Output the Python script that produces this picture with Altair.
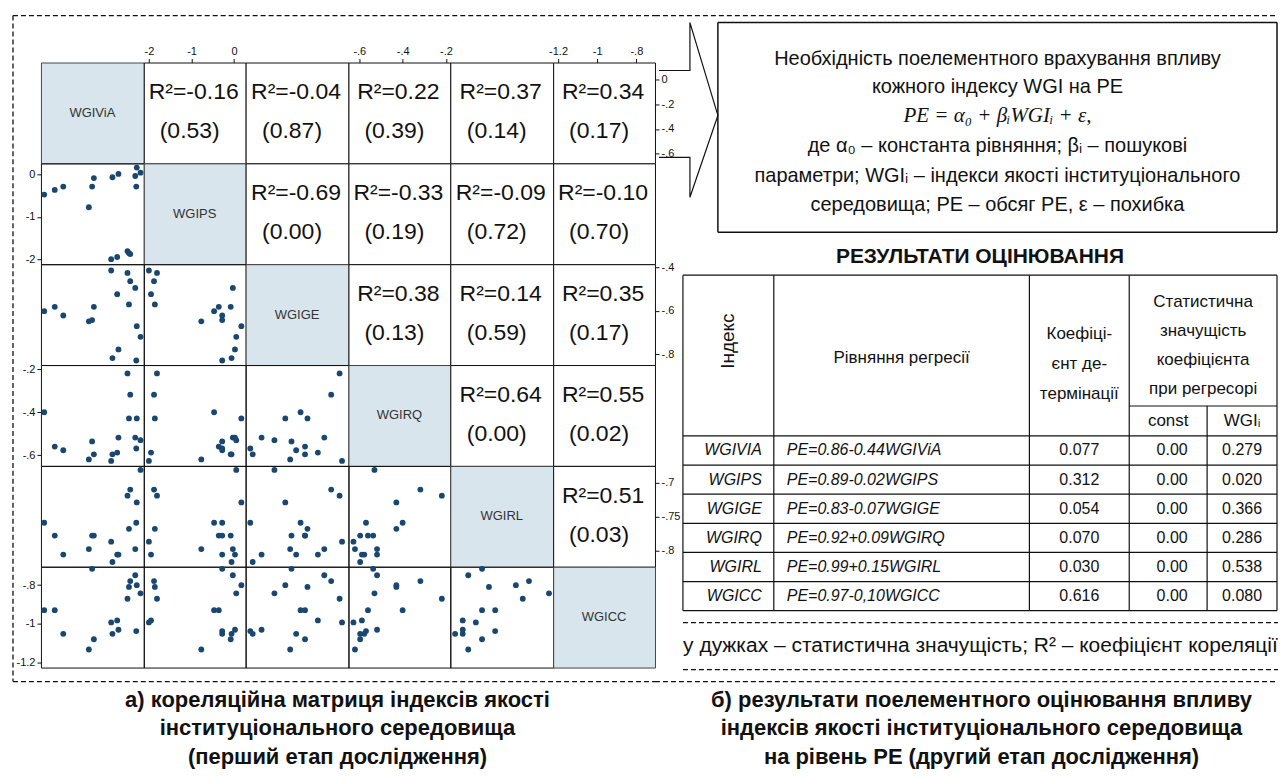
import altair as alt
import pandas as pd

FONT = "Liberation Sans, Arial, sans-serif"
SERIF = "Liberation Serif, DejaVu Serif, serif"
NAVY = "#1a476f"
DIAG = "#d9e5ec"
INK = "#111111"

# ---------------- data: scatter matrix (17 observations) ----------------
names = ["WGIViA", "WGIPS", "WGIGE", "WGIRQ", "WGIRL", "WGICC"]
wgivia = [-0.654, -0.570, -0.502, -0.298, -0.272, -0.258, -0.120, -0.110, -0.072,
          -0.062, 0.010, 0.022, 0.032, 0.072, 0.084, 0.080, 0.114]
wgips = [-0.47, -0.36, -0.28, -0.77, -0.28, -0.08, -2.00, -0.06, -1.95,
         0.02, -1.81, -1.86, -1.88, -0.03, 0.17, -0.28, 0.05]
wgige = [-0.601, -0.581, -0.621, -0.648, -0.642, -0.581, -0.414, -0.817, -0.523,
         -0.777, -0.425, -0.570, -0.463, -0.494, -0.670, -0.828, -0.719]
wgirq = [-0.400, -0.560, -0.577, -0.620, -0.536, -0.596, -0.627, -0.596, -0.588,
         -0.518, -0.219, -0.429, -0.318, -0.518, -0.429, -0.569, -0.530]
wgirl = [-0.759, -0.778, -0.806, -0.798, -0.778, -0.778, -0.787, -0.817, -0.806,
         -0.806, -0.719, -0.768, -0.710, -0.798, -0.729, -0.759, -0.681]
wgicc = [-0.929, -0.929, -1.051, -1.132, -0.716, -1.079, -0.992, -1.051, -0.982,
         -1.030, -0.870, -0.809, -0.779, -0.749, -0.800, -1.037, -0.842]

# upper-triangle texts (row-major)
corr_r = ["-0.16", "-0.04", "0.22", "0.37", "0.34", "-0.69", "-0.33", "-0.09", "-0.10",
          "0.38", "0.14", "0.35", "0.64", "0.55", "0.51"]
corr_p = ["0.53", "0.87", "0.39", "0.14", "0.17", "0.00", "0.19", "0.72", "0.70",
          "0.13", "0.59", "0.17", "0.00", "0.02", "0.03"]

# axis ticks
ticks = [[0, -0.2, -0.4, -0.6], [0, -1, -2], [-0.4, -0.6, -0.8],
         [-0.2, -0.4, -0.6], [-0.7, -0.75, -0.8], [-0.8, -1, -1.2]]
domains = [[-0.68, 0.14], [-2.12, 0.27], [-0.849, -0.385],
           [-0.65, -0.18], [-0.824, -0.675], [-1.225, -0.705]]

# ---------------- data: right panel ----------------
box_lines = ["Необхідність поелементного врахування впливу",
             "кожного індексу WGI на РЕ",
             "PE = α₀ + βᵢWGIᵢ + ε,",
             "де α₀ – константа рівняння; βᵢ – пошукові",
             "параметри; WGIᵢ – індекси якості інституціонального",
             "середовища; РЕ – обсяг РЕ, ε – похибка"]
table_title = "РЕЗУЛЬТАТИ ОЦІНЮВАННЯ"
hdr_index = "Індекс"
hdr_eq = "Рівняння регресії"
hdr_r2 = ["Коефіці-", "єнт де-", "термінації"]
hdr_sig = ["Статистична", "значущість", "коефіцієнта", "при регресорі"]
hdr_sub = ["const", "WGIᵢ"]
tbl_idx = ["WGIVIA", "WGIPS", "WGIGE", "WGIRQ", "WGIRL", "WGICC"]
tbl_eq = ["PE=0.86-0.44WGIViA", "PE=0.89-0.02WGIPS", "PE=0.83-0.07WGIGE",
          "PE=0.92+0.09WGIRQ", "PE=0.99+0.15WGIRL", "PE=0.97-0,10WGICC"]
tbl_r2 = ["0.077", "0.312", "0.054", "0.070", "0.030", "0.616"]
tbl_const = ["0.00", "0.00", "0.00", "0.00", "0.00", "0.00"]
tbl_wgi = ["0.279", "0.020", "0.366", "0.286", "0.538", "0.080"]
note = "у дужках – статистична значущість; R² – коефіцієнт кореляції"
cap_left = "а) кореляційна матриця індексів якості\nінституціонального середовища\n(перший етап дослідження)"
cap_right = "б) результати поелементного оцінювання впливу\nіндексів якості інституціонального середовища\nна рівень РЕ (другий етап дослідження)"

# ---------------- scatter matrix cells ----------------
df = pd.DataFrame(dict(zip(names, [wgivia, wgips, wgige, wgirq, wgirl, wgicc])))
COL_W = [103, 102, 103, 102, 103, 102]
ROW_H = 101
LEFT_W, TOP_H, BOT_H, CAP_H = 29, 48, 14, 88
RW = 624
LW = LEFT_W + sum(COL_W)          # 644
RH = TOP_H + 6 * ROW_H + BOT_H    # 668
LAB = "replace(toString(datum.value), '0.', '.')"
NOSTROKE = alt.ViewBackground(stroke="transparent")
one = pd.DataFrame({"a": [0]})


def mk_axis(k, orient):
    return alt.Axis(orient=orient, values=ticks[k], labelExpr=LAB, title=None,
                    domain=False, grid=False, tickSize=4, labelPadding=2,
                    labelFontSize=11, labelFont=FONT, labelColor=INK, tickColor=INK)


def cell(i, j, k):
    w, h = COL_W[j], ROW_H
    top = i == 0 and j % 2 == 1
    right = j == 5 and i % 2 == 0
    left = j == 0 and i % 2 == 1
    xax = mk_axis(j, "top") if top else None
    yax = mk_axis(i, "right") if right else (mk_axis(i, "left") if left else None)
    X = alt.X(f"{names[j]}:Q", scale=alt.Scale(domain=domains[j], nice=False, zero=False), axis=xax)
    Y = alt.Y(f"{names[i]}:Q", scale=alt.Scale(domain=domains[i], nice=False, zero=False), axis=yax)
    if i > j:
        return alt.Chart(df).mark_circle(size=34, color=NAVY, opacity=1).encode(
            x=X, y=Y).properties(width=w, height=h,
                                 view=alt.ViewBackground(stroke=INK, strokeWidth=1))
    layers = []
    if top or right:
        layers.append(alt.Chart(df).mark_circle(opacity=0, size=1).encode(x=X, y=Y))
    if i == j:
        t = pd.DataFrame({"t": [names[i]]})
        layers.append(alt.Chart(t).mark_text(font=FONT, fontSize=13, color="#333").encode(
            x=alt.value(w / 2), y=alt.value(h / 2), text="t:N"))
        view = alt.ViewBackground(fill=DIAG, stroke="#444", strokeWidth=1)
    else:
        t = pd.DataFrame({"r": ["R²=" + corr_r[k]], "p": ["(" + corr_p[k] + ")"]})
        layers.append(alt.Chart(t).mark_text(font=FONT, fontSize=23, color=INK).encode(
            x=alt.value(w / 2 - 1), y=alt.value(30), text="r:N"))
        layers.append(alt.Chart(t).mark_text(font=FONT, fontSize=23, color=INK).encode(
            x=alt.value(w / 2 - 5), y=alt.value(69), text="p:N"))
        view = alt.ViewBackground(fill="white", stroke=INK, strokeWidth=1)
    return alt.layer(*layers).properties(width=w, height=h, view=view)


def empty(w, h):
    return alt.Chart(one).mark_point(opacity=0, size=1).encode(
        x=alt.value(w / 2), y=alt.value(h / 2)).properties(width=w, height=h, view=NOSTROKE)


DASH = [5, 3]

# corner cell: dashed frame of the left part (drawn in its own pixel space)
frame_segs = [(1, 1, LW, 1), (1, 1, 1, RH), (1, RH, LW, RH)]
corner = alt.layer(*[
    alt.Chart(one).mark_rule(color=INK, strokeWidth=1.3, strokeDash=DASH).encode(
        x=alt.value(a), y=alt.value(b), x2=alt.value(c), y2=alt.value(d))
    for (a, b, c, d) in frame_segs]).properties(width=LEFT_W, height=TOP_H, view=NOSTROKE)

# ---------------- right panel (layout coordinates = page px minus origin) ----------------
OX, OY = 656, 14
XS = alt.Scale(domain=[0, RW], range=[0, RW], nice=False, zero=False)
YS = alt.Scale(domain=[0, RH], range=[0, RH], nice=False, zero=False)


def seg_layer(segs, dash=False, width=1.0):
    d = pd.DataFrame(segs, columns=["x", "y", "x2", "y2"])
    d["x"] -= OX; d["x2"] -= OX; d["y"] -= OY; d["y2"] -= OY
    kw = dict(color=INK, strokeWidth=width)
    if dash:
        kw["strokeDash"] = DASH
    return alt.Chart(d).mark_rule(**kw).encode(
        x=alt.X("x:Q", scale=XS, axis=None), x2="x2:Q",
        y=alt.Y("y:Q", scale=YS, axis=None), y2="y2:Q")


def text_layer(items, size, align="center", style="normal", weight="normal", font=FONT, angle=0):
    d = pd.DataFrame(items, columns=["x", "y", "t"])
    d["x"] -= OX; d["y"] -= OY
    kw = dict(font=font, fontSize=size, align=align, baseline="middle", color=INK,
              fontStyle=style, fontWeight=weight)
    if angle:
        kw["angle"] = angle
    return alt.Chart(d).mark_text(**kw).encode(
        x=alt.X("x:Q", scale=XS, axis=None), y=alt.Y("y:Q", scale=YS, axis=None), text="t:N")


# arrow
arrow_x = [660, 691, 691, 719, 691, 691, 660]
arrow_y = [70, 70, 22, 115, 197, 157, 157]
arr = pd.DataFrame({"x": [v - OX for v in arrow_x], "y": [v - OY for v in arrow_y],
                    "o": list(range(len(arrow_x)))})
arrow = alt.Chart(arr).mark_line(color=INK, strokeWidth=1.2).encode(
    x=alt.X("x:Q", scale=XS, axis=None), y=alt.Y("y:Q", scale=YS, axis=None), order="o:Q")

BX0, BY0, BX1, BY1 = 719, 22, 1279, 232
box = seg_layer([(BX0, BY0, BX1, BY0), (BX0, BY1, BX1, BY1), (BX0, BY0, BX0, BY1), (BX1, BY0, BX1, BY1)],
                width=1.5)
bcx = (BX0 + BX1) / 2
line_y = [58, 87, 116, 146, 176, 205]
box_txt = text_layer([(bcx, line_y[n], box_lines[n]) for n in [0, 1, 3, 4, 5]], 20)
box_formula = text_layer([(bcx, line_y[2], box_lines[2])], 21, style="italic", font=SERIF)

# table geometry
CX = [684, 775, 1031, 1131, 1209, 1279]
T_TOP, T_SUB, T_DATA, T_BOT = 275, 406, 436, 611
RHT = (T_BOT - T_DATA) / 6
hl = [(CX[0], T_TOP, CX[5], T_TOP), (CX[3], T_SUB, CX[5], T_SUB)]
for r in range(7):
    y = T_DATA + r * RHT
    hl.append((CX[0], y, CX[5], y))
vl = [(CX[c], T_TOP, CX[c], T_BOT) for c in [0, 1, 2, 3, 5]] + [(CX[4], T_SUB, CX[4], T_BOT)]
grid = seg_layer(hl + vl, width=1.2)

title = text_layer([((CX[0] + CX[5]) / 2, 257, table_title)], 21, weight="bold")
hdr = text_layer(
    [((CX[1] + CX[2]) / 2, 358, hdr_eq)]
    + [((CX[2] + CX[3]) / 2, 334 + 30 * n, s) for n, s in enumerate(hdr_r2)]
    + [((CX[3] + CX[5]) / 2, 302 + 29 * n, s) for n, s in enumerate(hdr_sig)]
    + [((CX[3] + CX[4]) / 2, (T_SUB + T_DATA) / 2, hdr_sub[0]),
       ((CX[4] + CX[5]) / 2, (T_SUB + T_DATA) / 2, hdr_sub[1])], 17)
hdr_rot = text_layer([((CX[0] + CX[1]) / 2, 341, hdr_index)], 19, angle=270)
ry = [T_DATA + RHT * (r + 0.5) for r in range(6)]
col1 = text_layer([(CX[1] - 12, ry[r], tbl_idx[r]) for r in range(6)], 16, align="right", style="italic")
col2 = text_layer([(CX[1] + 13, ry[r], tbl_eq[r]) for r in range(6)], 16, align="left", style="italic")
cols345 = text_layer([((CX[2] + CX[3]) / 2, ry[r], tbl_r2[r]) for r in range(6)]
                     + [((CX[3] + CX[4]) / 2 + 4, ry[r], tbl_const[r]) for r in range(6)]
                     + [((CX[4] + CX[5]) / 2, ry[r], tbl_wgi[r]) for r in range(6)], 16)

frame = seg_layer([(OX, OY + 1, OX + RW, OY + 1), (OX, OY + RH, OX + RW, OY + RH),
                   (684, 623, OX + RW, 623), (684, 670, OX + RW, 670)], dash=True, width=1.3)
note_t = text_layer([(982, 646, note)], 21)

right_panel = alt.layer(frame, arrow, box, box_txt, box_formula, title, grid, hdr, hdr_rot,
                        col1, col2, cols345, note_t).properties(width=RW, height=TOP_H, view=NOSTROKE)

# ---------------- captions (drawn from the bottom-left grid cell) ----------------
CW = LW + RW
caps = pd.DataFrame({"x": [338 - 12, 983 - 12], "t": [cap_left, cap_right]})
captions = alt.Chart(caps).mark_text(font=FONT, fontSize=22, fontWeight="bold", color=INK,
                                     lineBreak="\n", lineHeight=29, baseline="top",
                                     align="center").encode(
    x=alt.X("x:Q", scale=alt.Scale(domain=[0, CW], range=[0, CW], nice=False, zero=False), axis=None),
    y=alt.value(8), text="t:N").properties(width=LEFT_W, height=CAP_H, view=NOSTROKE)

# ---------------- flat grid: 8 columns x 9 rows ----------------
children = [corner] + [empty(COL_W[j], TOP_H) for j in range(6)] + [right_panel]
k = 0
for i in range(6):
    children.append(empty(LEFT_W, ROW_H))
    for j in range(6):
        children.append(cell(i, j, k))
        if j > i:
            k += 1
    children.append(empty(RW, ROW_H))
children += [empty(LEFT_W, BOT_H)] + [empty(COL_W[j], BOT_H) for j in range(6)] + [empty(RW, BOT_H)]
children += [captions] + [empty(COL_W[j], CAP_H) for j in range(6)] + [empty(RW, CAP_H)]

chart = alt.concat(*children, columns=8, spacing=0, bounds="flush", align="each").properties(
    padding={"left": 3, "top": 5, "right": 0, "bottom": 0})

chart.save("out.html", embed_options={"renderer": "svg", "actions": False})
